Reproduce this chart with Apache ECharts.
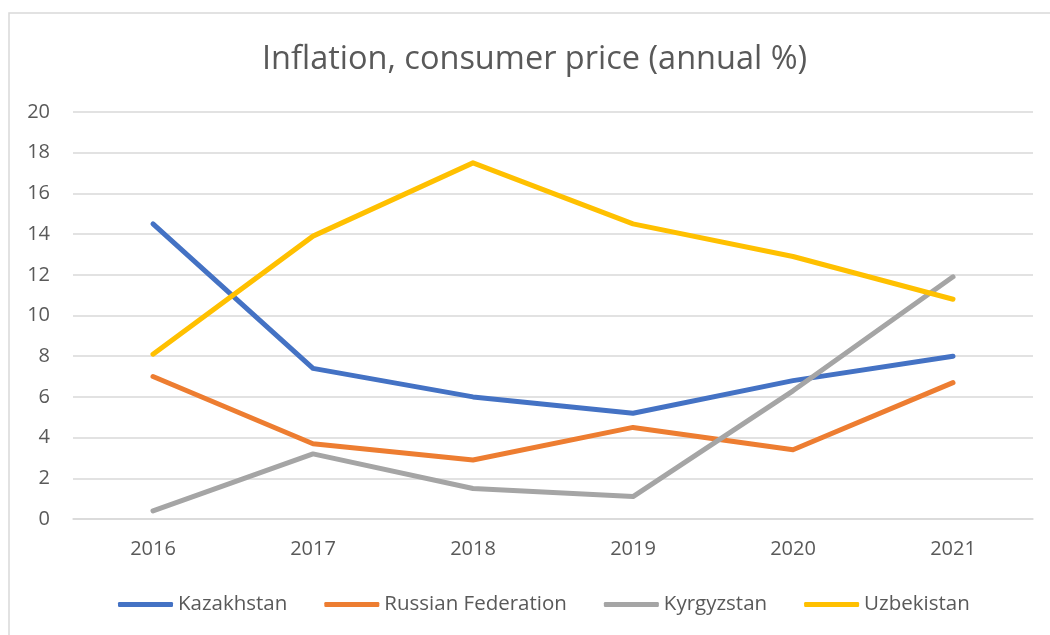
<!DOCTYPE html>
<html>
<head>
<meta charset="utf-8">
<script src="https://cdn.jsdelivr.net/npm/echarts@6/dist/echarts.min.js"></script>
<style>
html,body{margin:0;padding:0;background:#fff;}
#chart{width:1050px;height:635px;}
</style>
</head>
<body>
<div id="chart"></div>
<script>
const years = ['2016', '2017', '2018', '2019', '2020', '2021'];
const kazakhstan = [14.5, 7.4, 6.0, 5.2, 6.8, 8.0];
const russia = [7.0, 3.7, 2.9, 4.5, 3.4, 6.7];
const kyrgyzstan = [0.4, 3.2, 1.5, 1.1, 6.3, 11.9];
const uzbekistan = [8.1, 13.9, 17.5, 14.5, 12.9, 10.8];
const seriesNames = ['Kazakhstan', 'Russian Federation', 'Kyrgyzstan', 'Uzbekistan'];
const colors = ['#4472C4', '#ED7D31', '#A5A5A5', '#FFC000'];
const values = [kazakhstan, russia, kyrgyzstan, uzbekistan];

const chart = echarts.init(document.getElementById('chart'), null, {renderer: 'canvas'});
const font = '"Open Sans", sans-serif';
chart.setOption({
  animation: false,
  backgroundColor: '#ffffff',
  color: colors,
  graphic: [{
    type: 'rect',
    shape: {x: 9, y: 13, width: 1100, height: 700},
    style: {fill: 'none', stroke: '#D9D9D9', lineWidth: 1.5},
    silent: true
  }],
  title: {
    text: 'Inflation, consumer price (annual %)',
    left: 257,
    top: 38,
    textStyle: {fontFamily: font, fontSize: 32.5, fontWeight: 'normal', color: '#595959'}
  },
  legend: {
    data: seriesNames,
    bottom: 15,
    left: 113,
    itemGap: 37,
    itemWidth: 55,
    itemHeight: 5,
    icon: 'roundRect',
    textStyle: {fontFamily: font, fontSize: 20.5, color: '#595959', padding: [0, 0, 0, 0]}
  },
  grid: {left: 73, right: 17, top: 112, bottom: 116, containLabel: false},
  xAxis: {
    type: 'category',
    data: years,
    boundaryGap: true,
    axisLine: {show: true, lineStyle: {color: '#D9D9D9', width: 1.5}},
    axisTick: {show: false},
    axisLabel: {fontFamily: font, fontSize: 20, color: '#595959', margin: 20}
  },
  yAxis: {
    type: 'value',
    min: 0,
    max: 20,
    interval: 2,
    axisLine: {show: false},
    axisTick: {show: false},
    splitLine: {lineStyle: {color: '#D9D9D9', width: 1.5}},
    axisLabel: {fontFamily: font, fontSize: 20, color: '#595959', margin: 23}
  },
  series: seriesNames.map((n, i) => ({
    name: n,
    type: 'line',
    data: values[i],
    symbol: 'none',
    lineStyle: {width: 5, color: colors[i], cap: 'round', join: 'round'},
    itemStyle: {color: colors[i]}
  }))
});
</script>
</body>
</html>
